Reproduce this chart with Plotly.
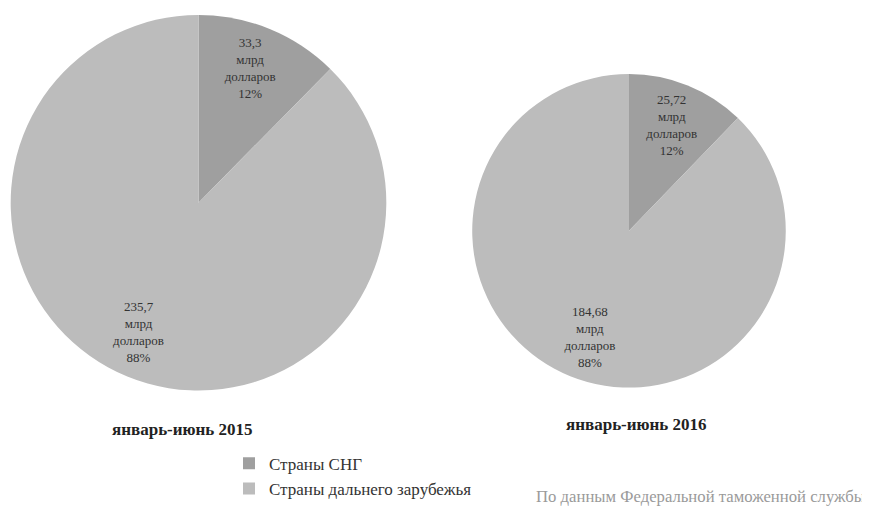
import plotly.graph_objects as go

NB = "\u00a0"
categories = ["Страны СНГ", "Страны дальнего зарубежья"]
values_2015 = [33.3, 235.7]
values_2016 = [25.72, 184.68]
lines_2015 = [["33,3", "млрд", "долларов", "12%"], ["235,7", "млрд", "долларов", "88%"]]
lines_2016 = [["25,72", "млрд", "долларов", "12%"], ["184,68", "млрд", "долларов", "88%"]]
period_titles = ["январь-июнь 2015", "январь-июнь 2016"]
source_note = "По данным Федеральной таможенной службы"

colors = ["#9f9f9f", "#bcbcbc"]
OFF = 8  # browser body margin
W, H = 870 - OFF, 507 - OFF
FONT = "Liberation Serif"


def label(lines, lead=0, trail=0, pad=0):
    # blank lines / trailing spaces only nudge where the library centres the label
    body = [ln + NB * pad for ln in lines]
    return "<br>".join([NB] * lead + body + [NB] * trail)


text_2015 = [label(lines_2015[0], trail=1), label(lines_2015[1], lead=5, pad=15)]
text_2016 = [label(lines_2016[0]), label(lines_2016[1], lead=4, pad=6)]


def fx(x):
    return max(0.0, (x - OFF) / W)


def fy(y):
    return min(1.0, 1 - (y - OFF) / H)


def px_dom(x0, x1, y0, y1):
    return dict(x=[fx(x0), fx(x1)], y=[fy(y1), fy(y0)])


fig = go.Figure()
for vals, txt, dom in [(values_2015, text_2015, px_dom(8, 389, 15, 396)),
                       (values_2016, text_2016, px_dom(470, 788, 75, 393))]:
    fig.add_trace(go.Pie(
        labels=categories, values=vals, text=txt,
        textinfo="text", textposition="inside", insidetextorientation="horizontal",
        sort=False, direction="clockwise", rotation=0,
        marker=dict(colors=colors, line=dict(width=0)),
        textfont=dict(family=FONT, size=13, color="#333333"),
        insidetextfont=dict(family=FONT, size=13, color="#333333"),
        domain=dom, hoverinfo="label+value+percent",
    ))

fig.add_annotation(text="<b>" + period_titles[0] + "</b>", x=fx(182), y=fy(436),
                   xanchor="center", yanchor="middle",
                   xref="paper", yref="paper", showarrow=False,
                   font=dict(family=FONT, size=17, color="#222222"))
fig.add_annotation(text="<b>" + period_titles[1] + "</b>", x=fx(636), y=fy(430),
                   xanchor="center", yanchor="middle",
                   xref="paper", yref="paper", showarrow=False,
                   font=dict(family=FONT, size=17, color="#222222"))
fig.add_annotation(text=source_note, x=fx(867), y=fy(503), xanchor="right", yanchor="middle",
                   xref="paper", yref="paper", showarrow=False,
                   font=dict(family=FONT, size=16.7, color="#9a9a9a"))

fig.update_layout(
    width=W, height=H,
    margin=dict(l=0, r=0, t=0, b=0),
    paper_bgcolor="white", plot_bgcolor="white",
    font=dict(family=FONT),
    showlegend=True,
    legend=dict(x=fx(229), y=fy(452), xanchor="left", yanchor="top",
                font=dict(family=FONT, size=17, color="#333333"),
                itemwidth=30, tracegroupgap=0, bgcolor="rgba(0,0,0,0)"),
)

fig.write_html("out.html")
